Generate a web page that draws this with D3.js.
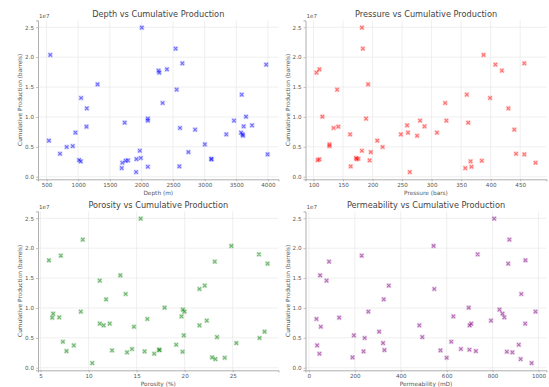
<!DOCTYPE html>
<html><head><meta charset="utf-8">
<script src="https://cdn.jsdelivr.net/npm/d3@7"></script>
<style>body{margin:0;background:#fff}svg{display:block}text{font-family:"DejaVu Sans",sans-serif}</style>
</head><body>
<svg id="c" width="549" height="387"></svg>
<script>
// Cumulative production (x 1e7 barrels) per well
const production = [0.603,2.037,0.385,0.497,0.513,0.737,0.279,0.257,1.317,1.144,0.837,1.546,0.145,0.234,0.904,0.268,0.273,0.078,0.296,0.435,0.313,2.494,0.167,0.971,0.938,1.775,1.741,1.233,1.797,2.143,1.456,0.173,0.815,1.897,0.413,0.787,0.541,0.301,0.290,0.709,0.938,0.737,1.373,0.709,0.686,0.843,1.004,0.859,1.875,0.374];
const depth = [537,558,712,818,914,956,1014,1041,1046,1136,1131,1306,1688,1698,1735,1751,1788,1916,1921,1974,1990,2006,2101,2101,2101,2271,2282,2335,2403,2541,2557,2600,2610,2647,2743,2849,3003,3103,3109,3342,3464,3575,3586,3601,3606,3617,3654,3750,3973,3995];
const pressure = [208,388,443,217,127,260,107,366,399,430,142,192.5,357,476,362,385,195,263,173,182,172,182,367.5,189,280.5,419,105,323,110,183.5,140,163,134,457,197,440,127,176,110,162,325,309,359.6,248,275.5,288,115,258.5,408,457];
const porosity = [28.32,24.86,19.12,27.80,23.37,11.16,7.70,14.00,21.54,11.82,6.21,13.30,23.20,16.83,6.31,19.78,15.83,10.38,17.39,7.32,14.52,15.42,24.17,19.81,19.98,23.13,28.63,13.86,5.87,9.39,11.16,22.85,16.11,27.73,25.38,22.30,19.91,17.32,12.44,11.57,9.19,12.20,22.09,21.54,14.72,6.94,17.91,19.67,7.11,8.46];
const permeability = [306,543,914,243,494,707,727,886,546,326,132,49,922,46,843,862,238,970,329,620,662,807,600,830,987,88,868,925,943,873,77,190,33,735,323,793,196,699,573,481,259,942,348,700,52,851,696,629,230,36];

const titles = ["Depth vs Cumulative Production","Pressure vs Cumulative Production","Porosity vs Cumulative Production","Permeability vs Cumulative Production"];
const xLabels = ["Depth (m)","Pressure (bars)","Porosity (%)","Permeability (mD)"];
const yLabel = "Cumulative Production (barrels)";
const xTicks = [d3.range(500,4001,500), d3.range(100,451,50), d3.range(5,26,5), d3.range(0,1001,200)];
const yTicks = [0,0.5,1.0,1.5,2.0,2.5];
const colors = ["#0000ff","#ff0000","#008000","#800080"];
const xSeries = [depth, pressure, porosity, permeability];

const boxes = [
  {l:38, r:278.5, t:20.4, b:179.3},
  {l:305.5, r:546.5, t:20.4, b:179.3},
  {l:38, r:278.5, t:211.4, b:370.3},
  {l:305.5, r:546.5, t:211.4, b:370.3}
];

function padded(arr){
  const [a,b] = d3.extent(arr); const m = (b-a)*0.05; return [a-m, b+m];
}

const svg = d3.select("#c");
const textCol = "#444", tickCol = "#555", gridCol = "#ebebeb", spineCol = "#9a9a9a";

xSeries.forEach((xs, i) => {
  const bx = boxes[i];
  const x = d3.scaleLinear().domain(padded(xs)).range([bx.l, bx.r]);
  const y = d3.scaleLinear().domain(padded(production)).range([bx.b, bx.t]);
  const g = svg.append("g");

  g.selectAll(".gx").data(xTicks[i]).join("line")
    .attr("x1", d=>x(d)).attr("x2", d=>x(d)).attr("y1", bx.t).attr("y2", bx.b)
    .attr("stroke", gridCol).attr("stroke-width", 0.8);
  g.selectAll(".gy").data(yTicks).join("line")
    .attr("x1", bx.l).attr("x2", bx.r).attr("y1", d=>y(d)).attr("y2", d=>y(d))
    .attr("stroke", gridCol).attr("stroke-width", 0.8);

  const xa = g.append("g").attr("transform", `translate(0,${bx.b})`)
    .call(d3.axisBottom(x).tickValues(xTicks[i]).tickFormat(d3.format("d")).tickSize(2).tickPadding(2));
  const ya = g.append("g").attr("transform", `translate(${bx.l},0)`)
    .call(d3.axisLeft(y).tickValues(yTicks).tickFormat(d3.format(".1f")).tickSize(2).tickPadding(2));
  [xa, ya].forEach(a => {
    a.select(".domain").attr("stroke", spineCol).attr("stroke-width", 0.8);
    a.selectAll(".tick line").attr("stroke", spineCol).attr("stroke-width", 0.6);
    a.selectAll(".tick text").attr("fill", tickCol).attr("font-size", 5.6)
      .attr("font-family", '"DejaVu Sans",sans-serif');
  });

  g.append("text").attr("x", bx.l + 1).attr("y", bx.t - 2.5).attr("font-size", 5.6)
    .attr("fill", tickCol).text("1e7");

  g.append("text").attr("x", (bx.l+bx.r)/2).attr("y", bx.t - 3).attr("text-anchor","middle")
    .attr("font-size", 8.2).attr("fill", textCol).text(titles[i]);

  g.append("text").attr("x", (bx.l+bx.r)/2).attr("y", bx.b + 15.5).attr("text-anchor","middle")
    .attr("font-size", 5.8).attr("fill", tickCol).text(xLabels[i]);
  g.append("text").attr("transform", `translate(${bx.l - 16},${(bx.t+bx.b)/2}) rotate(-90)`)
    .attr("text-anchor","middle").attr("font-size", 5.8).attr("fill", tickCol).text(yLabel);

  const pts = g.selectAll(".pt").data(xs.map((v,k)=>[v, production[k]])).join("g")
    .attr("transform", d=>`translate(${x(d[0])},${y(d[1])})`);
  pts.append("rect").attr("x",-2.5).attr("y",-2.5).attr("width",5).attr("height",5)
    .attr("fill", colors[i]).attr("fill-opacity", 0.14);
  pts.append("path").attr("d","M-1.7,-1.7L1.7,1.7M-1.7,1.7L1.7,-1.7")
    .attr("stroke", colors[i]).attr("stroke-opacity", 0.5).attr("stroke-width", 1.1).attr("fill","none");
});
</script>
</body></html>
